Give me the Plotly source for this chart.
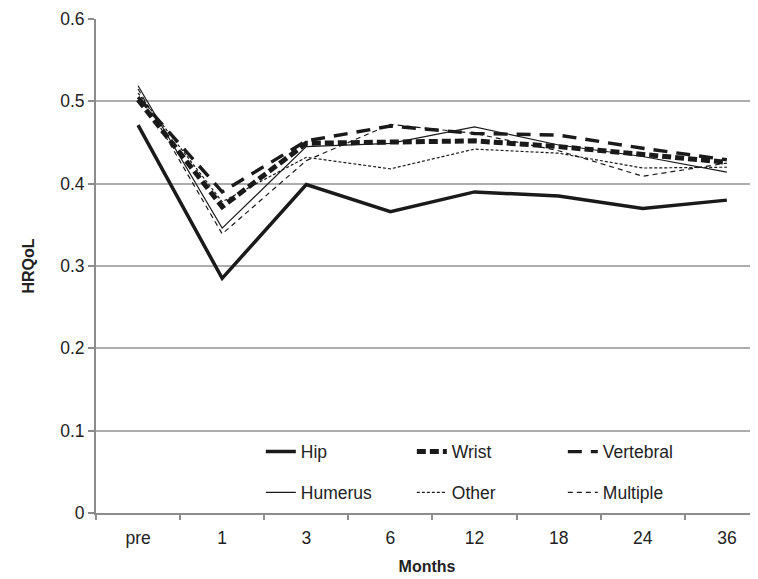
import plotly.graph_objects as go

categories = ["pre", "1", "3", "6", "12", "18", "24", "36"]
hip = [0.471, 0.285, 0.399, 0.366, 0.390, 0.385, 0.370, 0.380]
wrist = [0.502, 0.372, 0.449, 0.450, 0.452, 0.445, 0.435, 0.426]
vertebral = [0.505, 0.390, 0.452, 0.470, 0.461, 0.459, 0.443, 0.429]
humerus = [0.519, 0.346, 0.445, 0.449, 0.469, 0.447, 0.433, 0.414]
other = [0.510, 0.378, 0.432, 0.418, 0.442, 0.437, 0.419, 0.420]
multiple = [0.515, 0.339, 0.428, 0.472, 0.461, 0.440, 0.409, 0.425]

y_ticks = [0, 0.1, 0.2, 0.3, 0.4, 0.5, 0.6]
y_ticktext = ["0", "0.1", "0.2", "0.3", "0.4", "0.5", "0.6"]

ink = "#1a1a1a"
fig = go.Figure()

series = [
    ("Hip", hip, dict(color=ink, width=3.5, dash="solid"), "legend"),
    ("Wrist", wrist, dict(color=ink, width=5, dash="9px,4px"), "legend"),
    ("Vertebral", vertebral, dict(color=ink, width=3.4, dash="14px,9px"), "legend"),
    ("Humerus", humerus, dict(color=ink, width=1.2, dash="solid"), "legend2"),
    ("Other", other, dict(color=ink, width=1.2, dash="3px,2px"), "legend2"),
    ("Multiple", multiple, dict(color=ink, width=1.2, dash="5px,4px"), "legend2"),
]
for name, vals, line, lg in series:
    fig.add_trace(go.Scatter(x=categories, y=vals, mode="lines", name=name,
                             line=line, legend=lg))

font = dict(family="Liberation Sans, Arial, sans-serif", size=17.5, color="#222222")
title_font = dict(family="Liberation Sans, Arial, sans-serif", size=16, color="#222222")

fig.update_layout(
    width=750, height=571,
    margin=dict(l=88, r=0, t=11, b=65.5),
    paper_bgcolor="white", plot_bgcolor="white",
    font=font,
    xaxis=dict(
        type="category", range=[-0.5, 7.37],
        showline=True, linecolor="#8c8c8c", linewidth=2,
        ticks="outside", tickson="boundaries", ticklen=5, tickcolor="#8c8c8c", tickwidth=1.5,
        showgrid=False, zeroline=False,
        ticklabelstandoff=8,
        title=dict(text="<b>Months</b>", standoff=14, font=title_font),
    ),
    yaxis=dict(
        range=[0, 0.6], tickvals=y_ticks, ticktext=y_ticktext,
        showline=True, linecolor="#8c8c8c", linewidth=2,
        ticks="outside", ticklen=6, tickcolor="#8c8c8c", tickwidth=1.5,
        showgrid=True, gridcolor="#adadad", gridwidth=1.5,
        zeroline=False,
        title=dict(text="<b>HRQoL</b>", standoff=22, font=title_font),
    ),
    legend=dict(orientation="h", x=0.249, xanchor="left", y=0.124, yanchor="middle",
                entrywidth=106, entrywidthmode="pixels",
                bgcolor="rgba(0,0,0,0)", font=font, itemwidth=30),
    legend2=dict(orientation="h", x=0.249, xanchor="left", y=0.0415, yanchor="middle",
                 entrywidth=106, entrywidthmode="pixels",
                 bgcolor="rgba(0,0,0,0)", font=font, itemwidth=30),
)

fig.write_html("out.html")
